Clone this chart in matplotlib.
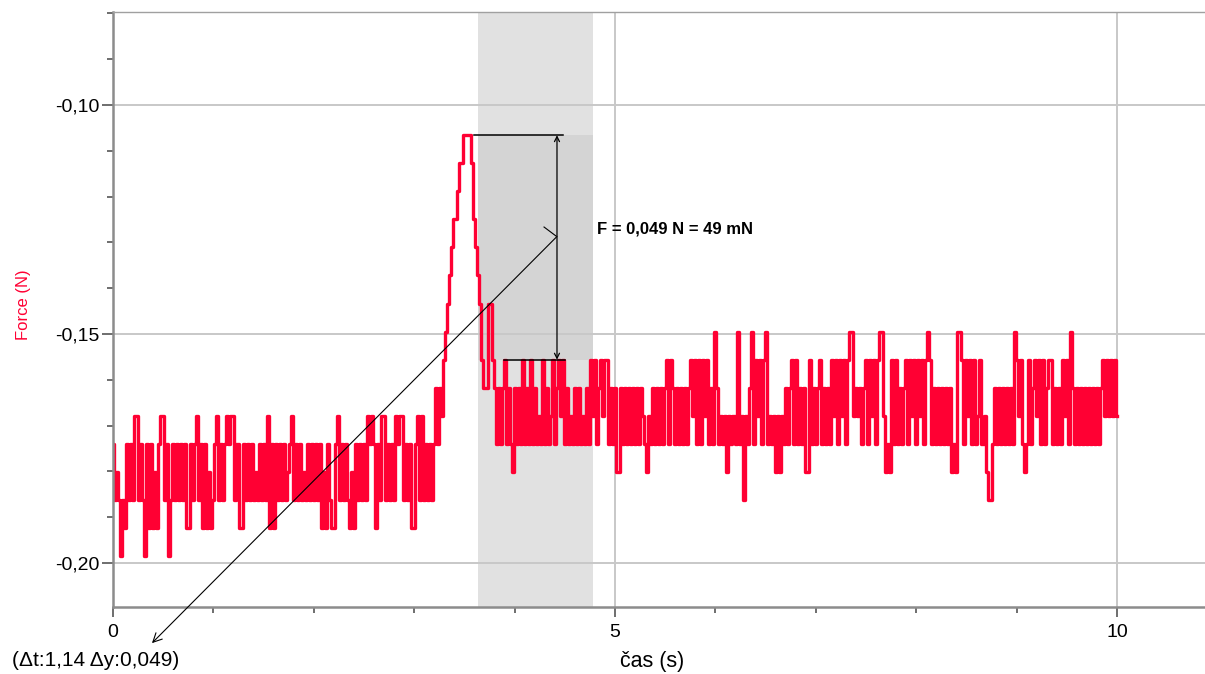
import numpy as np
import matplotlib.pyplot as plt
from matplotlib.ticker import MultipleLocator, FuncFormatter

# Force sensor readings, one hex digit per sample (20 ms apart).
# Digit = number of sensor steps below the peak reading.
force_counts = [
    "bdcdfdebdbdaadbdfbebecebaadbfdbdbdbdbeebdbadbebece",  # 0-1 s
    "dbadbdbabaadbeebdbdbdcdbdbdaebebdbdbdcbadbdbdcdbdb",  # 1-2 s
    "dbdbecebdeebadbdbdecebdbdbdababebdaadbdbdabaadbdbe",  # 2-3 s
    "ebadadbdbdb9b9a87654332110000134568996689b9b98b9bc",  # 3-4 s
    "9b9b8b9b8b9bab8b9ba8b98a8b9bab9b9bab9b8a8b98a88b9b",  # 4-5 s
    "9cc9b9b9b9b9b9abcab9b9b9b98b89b9b9b9b98a8b8b8a8b9b",  # 5-6 s
    "79babacabab7badab97b8a8b87babacacab9b98b8b9b9cc8b9",  # 6-7 s
    "b98b9b9b8a8b8a8b877a9a9b98b8a8b877acbc8b8b9b98b8a8",  # 7-8 s
    "b8a8b878b9b9b9b9b9cbc778b8a8b8ba8bacddb9b9b9b9b9b7",  # 8-9 s
    "8a8bcb8b98a8b8b988b9b9b8a8b79b9b9b9b9b9b9b98a8a8a8a",  # 9-10 s
]
dt = 0.02
peak_force = -0.1066
step = 0.006125

# selected interval and the measured difference
sel_start, sel_end = 3.64, 4.78
delta_t, delta_f = 1.14, 0.049
sel_text = "(\u0394t:1,14 \u0394y:0,049)"
force_text = "F = 0,049 N = 49 mN"

counts = np.array([int(c, 16) for c in "".join(force_counts)])
t = np.arange(len(counts)) * dt
force = peak_force - counts * step
f_top = peak_force
f_bot = peak_force - delta_f

red = '#ff0033'
plt.rcParams['font.family'] = ['Liberation Sans', 'DejaVu Sans']

fig = plt.figure(figsize=(12.05, 6.74), dpi=100)
ax = fig.add_axes([113 / 1205, 1 - 607 / 674, 1 - 113 / 1205, 595 / 674])
ax.set_xlim(0, 10.876)
ax.set_ylim(-0.20961, -0.07969)

# selection shading
ax.axvspan(sel_start, sel_end, color='#e1e1e1', zorder=0, lw=0)
ax.fill_between([sel_start, sel_end], f_bot, f_top, color='#d4d4d4', zorder=0.2, lw=0)

ax.grid(True, which='major', color='#c8c8c8', lw=1.4, zorder=0.5)
ax.set_axisbelow(True)

ax.plot(t, force, color=red, lw=2.4, drawstyle='steps-mid', zorder=2)

# peak / baseline markers and the double arrow
ax.plot([3.596, 4.482], [f_top, f_top], color='black', lw=1.1, zorder=3)
ax.plot([3.894, 4.502], [f_bot, f_bot], color='black', lw=1.1, zorder=3)
ax.annotate('', xy=(4.422, f_top), xytext=(4.422, f_bot),
            arrowprops=dict(arrowstyle='<->', lw=0.9, color='black',
                            shrinkA=0, shrinkB=0, mutation_scale=9), zorder=3)
ax.text(4.82, -0.1271, force_text, fontsize=12, fontweight='bold',
        va='center', ha='left', zorder=4)

# leader line to the readout label
ax.annotate('', xy=(0.388, -0.2175), xytext=(4.422, -0.1287),
            arrowprops=dict(arrowstyle='->', lw=0.8, color='black',
                            shrinkA=0, shrinkB=0, mutation_scale=16),
            annotation_clip=False, zorder=3)
ax.plot([4.293, 4.412], [-0.12664, -0.1286], color='black', lw=0.8, zorder=3)
fig.text(12 / 1205, 1 - 660 / 674, sel_text, fontsize=15, va='center', ha='left')

# axes styling
for side in ['left', 'bottom']:
    ax.spines[side].set_color('#8c8c8c')
    ax.spines[side].set_linewidth(1.8)
ax.spines['top'].set_linewidth(1.0)
ax.spines['top'].set_color('#a0a0a0')
ax.spines['right'].set_visible(False)

ax.xaxis.set_major_locator(MultipleLocator(5))
ax.xaxis.set_minor_locator(MultipleLocator(1))
ax.yaxis.set_major_locator(MultipleLocator(0.05))
ax.yaxis.set_minor_locator(MultipleLocator(0.01))
ax.xaxis.set_major_formatter(FuncFormatter(lambda v, p: f"{v:g}"))
ax.yaxis.set_major_formatter(FuncFormatter(lambda v, p: f"{v:.2f}".replace('.', ',')))
ax.tick_params(which='major', direction='out', length=7, width=1.2, color='#555555',
               labelsize=14, pad=2)
ax.tick_params(which='minor', direction='out', length=4, width=1.2, color='#555555')
ax.tick_params(axis='y', which='major', length=8)
ax.tick_params(axis='x', which='major', pad=5)

ax.set_xlabel('\u010das (s)', fontsize=15.5)
ax.xaxis.set_label_coords((652 - 113) / 1092, -(651 - 607) / 595)
ax.set_ylabel('Force (N)', fontsize=12, color=red)
ax.yaxis.set_label_coords(-(113 - 31) / 1092, (607 - 305) / 595)

fig.savefig('out.png', dpi=100)
